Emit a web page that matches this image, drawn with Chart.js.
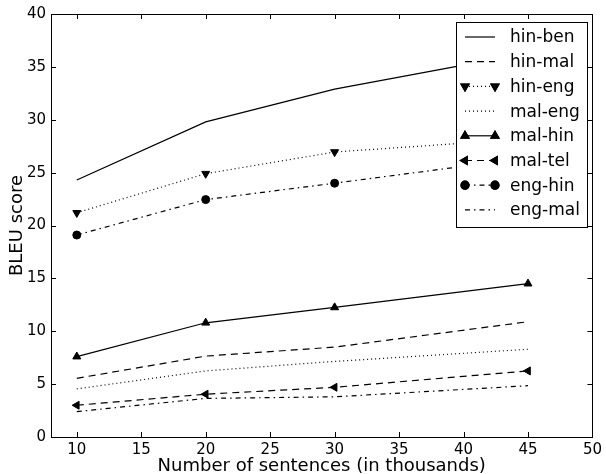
<!DOCTYPE html>
<html>
<head>
<meta charset="utf-8">
<script src="https://cdn.jsdelivr.net/npm/chart.js@4/dist/chart.umd.min.js"></script>
<style>
  html, body { margin: 0; padding: 0; background: #fff; }
  #wrap { width: 606px; height: 474px; }
</style>
</head>
<body>
<div id="wrap"><canvas id="bleuChart" width="606" height="474"></canvas></div>
<script>
// thousands of sentences
const sizes = [10, 20, 30, 45];

const hinBen = [24.3, 29.8, 32.9, 36.3];
const hinMal = [5.55, 7.65, 8.5, 10.9];
const hinEng = [21.2, 24.9, 26.95, 28.2];
const malEng = [4.55, 6.25, 7.15, 8.3];
const malHin = [7.6, 10.8, 12.25, 14.5];
const malTel = [3.0, 4.05, 4.7, 6.25];
const engHin = [19.1, 22.45, 24.0, 26.4];
const engMal = [2.4, 3.65, 3.8, 4.85];

const xTicks = [10, 15, 20, 25, 30, 35, 40, 45, 50];
const yTicks = [0, 5, 10, 15, 20, 25, 30, 35, 40];

const FONT = '"DejaVu Sans", sans-serif';
const DASH = [7, 5];
const DOT = [1, 3];
const DASHDOT = [5, 4, 1.5, 4];

function series(label, values, dash, marker, rotation, radius) {
  return {
    label: label,
    data: sizes.map((x, i) => ({ x: x, y: values[i] })),
    borderColor: '#000',
    backgroundColor: '#000',
    borderWidth: 1.2,
    borderDash: dash,
    pointStyle: marker || 'circle',
    pointRotation: rotation || 0,
    pointRadius: marker ? radius : 0,
    pointBorderWidth: 1,
    pointBorderColor: '#000',
    pointBackgroundColor: '#000',
    tension: 0,
    fill: false
  };
}

const datasets = [
  series('hin-ben', hinBen, [], null),
  series('hin-mal', hinMal, DASH, null),
  series('hin-eng', hinEng, DOT, 'triangle', 180, 4.6),
  series('mal-eng', malEng, DOT, null),
  series('mal-hin', malHin, [], 'triangle', 0, 4.6),
  series('mal-tel', malTel, DASH, 'triangle', 270, 4.6),
  series('eng-hin', engHin, DASHDOT, 'circle', 0, 4),
  series('eng-mal', engMal, DASHDOT, null)
];

// matplotlib-style frame with inward ticks on all sides
const framePlugin = {
  id: 'frame',
  afterDatasetsDraw(chart) {
    const ctx = chart.ctx;
    const a = chart.chartArea;
    const xs = chart.scales.x, ys = chart.scales.y;
    ctx.save();
    ctx.strokeStyle = '#000';
    ctx.lineWidth = 1;
    ctx.setLineDash([]);
    ctx.strokeRect(Math.round(a.left) + 0.5, Math.round(a.top) + 0.5,
      Math.round(a.right - a.left), Math.round(a.bottom - a.top));
    const len = 5;
    xTicks.forEach(v => {
      const px = Math.round(xs.getPixelForValue(v)) + 0.5;
      ctx.beginPath();
      ctx.moveTo(px, a.bottom); ctx.lineTo(px, a.bottom - len);
      ctx.moveTo(px, a.top); ctx.lineTo(px, a.top + len);
      ctx.stroke();
    });
    yTicks.forEach(v => {
      const py = Math.round(ys.getPixelForValue(v)) + 0.5;
      ctx.beginPath();
      ctx.moveTo(a.left, py); ctx.lineTo(a.left + len, py);
      ctx.moveTo(a.right, py); ctx.lineTo(a.right - len, py);
      ctx.stroke();
    });

    // legend box
    const bx = 456, by = 22, bw = 131, bh = 205;
    ctx.fillStyle = '#fff';
    ctx.fillRect(bx, by, bw, bh);
    ctx.strokeRect(bx + 0.5, by + 0.5, bw, bh);
    ctx.font = '17px ' + FONT;
    ctx.textBaseline = 'middle';
    chart.data.datasets.forEach((ds, i) => {
      const y = by + 15 + i * 24.7;
      const x0 = 465, x1 = 495;
      ctx.strokeStyle = '#000';
      ctx.lineWidth = ds.borderWidth;
      ctx.setLineDash(ds.borderDash);
      ctx.beginPath();
      ctx.moveTo(x0, y); ctx.lineTo(x1, y);
      ctx.stroke();
      ctx.setLineDash([]);
      if (ds.pointRadius > 0) {
        [x0, x1].forEach(px => {
          ctx.fillStyle = '#000';
          Chart.helpers.drawPoint(ctx, {
            pointStyle: ds.pointStyle,
            rotation: ds.pointRotation,
            radius: ds.pointRadius,
            borderWidth: 1
          }, px, y);
          ctx.fill();
          ctx.stroke();
        });
      }
      ctx.fillStyle = '#000';
      ctx.textAlign = 'left';
      ctx.fillText(ds.label, 510, y + 1);
    });
    ctx.restore();
  }
};

new Chart(document.getElementById('bleuChart'), {
  type: 'line',
  data: { datasets: datasets },
  options: {
    responsive: false,
    animation: false,
    layout: { padding: { left: 7, right: 11, top: 13, bottom: 0 } },
    plugins: { legend: { display: false }, tooltip: { enabled: false } },
    scales: {
      x: {
        type: 'linear',
        min: 8,
        max: 50,
        afterBuildTicks: s => { s.ticks = xTicks.map(v => ({ value: v })); },
        afterFit: s => { s.height = 37; },
        grid: { display: false, drawTicks: false },
        border: { display: false },
        ticks: { color: '#000', font: { family: FONT, size: 15 }, padding: 4, maxRotation: 0 },
        title: {
          display: true,
          text: 'Number of sentences (in thousands)',
          color: '#000',
          font: { family: FONT, size: 18 },
          padding: { top: 0, bottom: -3 }
        }
      },
      y: {
        min: 0,
        max: 40,
        afterBuildTicks: s => { s.ticks = yTicks.map(v => ({ value: v })); },
        afterFit: s => { s.width = 44; },
        grid: { display: false, drawTicks: false },
        border: { display: false },
        ticks: { color: '#000', font: { family: FONT, size: 15 }, padding: 5 },
        title: {
          display: true,
          text: 'BLEU score',
          color: '#000',
          font: { family: FONT, size: 18 },
          padding: { top: 0, bottom: 0 }
        }
      }
    }
  },
  plugins: [framePlugin]
});
</script>
</body>
</html>
